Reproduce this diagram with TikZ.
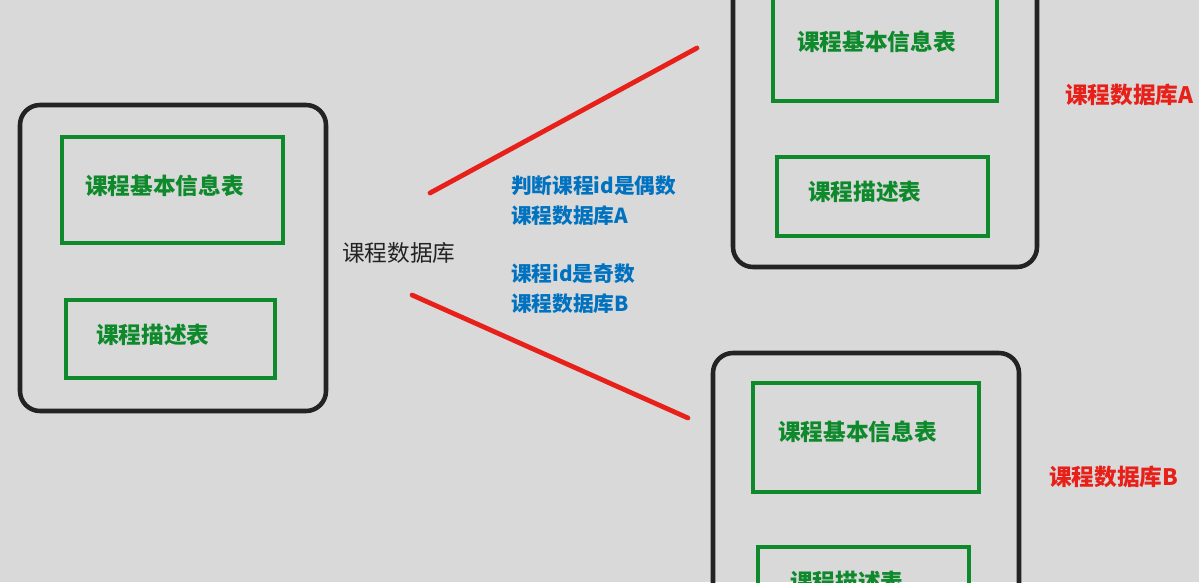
\documentclass[tikz,border=0pt]{standalone}
\usepackage{fontspec}
\newfontfamily\cjk{Noto Sans CJK SC}
\begin{document}
\begin{tikzpicture}[x=0.75pt,y=-0.75pt,font=\cjk,
  db/.style={draw=ink,line width=3.4pt,rounded corners=15pt,inner sep=0pt},
  tb/.style={draw=gr,line width=3.4pt,inner sep=0pt},
  tt/.style={anchor=west,inner sep=0pt,text=gr,font=\cjk\bfseries\fontsize{17}{20}\selectfont},
  lb/.style={anchor=west,inner sep=0pt},
  rl/.style={line width=3.6pt,line cap=round}]
\definecolor{ink}{HTML}{232323}\definecolor{gr}{HTML}{0E8A2C}\definecolor{bl}{HTML}{0072C0}\definecolor{rd}{HTML}{E8201A}\definecolor{bg}{HTML}{D9D9D9}
\fill[bg] (0,0) rectangle (1199,582);
\useasboundingbox (0,0) rectangle (1199,582);
\begin{scope}
\clip (0,0) rectangle (1199,582);
% source database
\node[db,minimum width=306*0.75pt,minimum height=306*0.75pt] (src) at (173,258) {};
\node[tb,minimum width=221*0.75pt,minimum height=106*0.75pt] (srcinfo) at (172.5,190) {};
\node[tt] (srcinfot) at (85,186) {课程基本信息表};
\node[tb,minimum width=209*0.75pt,minimum height=78*0.75pt] (srcdesc) at (170.5,339) {};
\node[tt] (srcdesct) at (96,335) {课程描述表};
% database A
\node[db,minimum width=304*0.75pt,minimum height=287*0.75pt] (dba) at (885,123.5) {};
\node[tb,minimum width=224*0.75pt,minimum height=110*0.75pt] (dbainfo) at (885,46) {};
\node[tt] (dbainfot) at (797,42) {课程基本信息表};
\node[tb,minimum width=211*0.75pt,minimum height=79*0.75pt] (dbadesc) at (882.5,196.5) {};
\node[tt] (dbadesct) at (808,192) {课程描述表};
% database B
\node[db,minimum width=306*0.75pt,minimum height=267*0.75pt] (dbb) at (866,486.5) {};
\node[tb,minimum width=226*0.75pt,minimum height=109*0.75pt] (dbbinfo) at (866,437.5) {};
\node[tt] (dbbinfot) at (778,432) {课程基本信息表};
\node[tb,minimum width=211*0.75pt,minimum height=96*0.75pt] (dbbdesc) at (863.5,595) {};
\node[tt] (dbbdesct) at (790,582) {课程描述表};
\end{scope}
% labels
\node[lb,text=ink,font=\cjk\fontsize{17}{20}\selectfont] (srcname) at (342,253) {课程数据库};
\node[lb,text=rd,font=\cjk\bfseries\fontsize{17}{20}\selectfont] (dbaname) at (1065,95) {课程数据库A};
\node[lb,text=rd,font=\cjk\bfseries\fontsize{17}{20}\selectfont] (dbbname) at (1049,477) {课程数据库B};
\node[lb,align=left,text=bl,font=\cjk\bfseries\fontsize{15.5}{22.5}\selectfont] (rulea) at (511,201) {判断课程id是偶数\\课程数据库A};
\node[lb,align=left,text=bl,font=\cjk\bfseries\fontsize{15.5}{22.5}\selectfont] (ruleb) at (511,289) {课程id是奇数\\课程数据库B};
% split lines
\coordinate (sa) at (430,193);\coordinate (ea) at (697,48);
\coordinate (sb) at (412,295);\coordinate (eb) at (688,418);
\draw[rl,rd] (sa)--(ea);
\draw[rl,rd] (sb)--(eb);
\end{tikzpicture}
\end{document}
